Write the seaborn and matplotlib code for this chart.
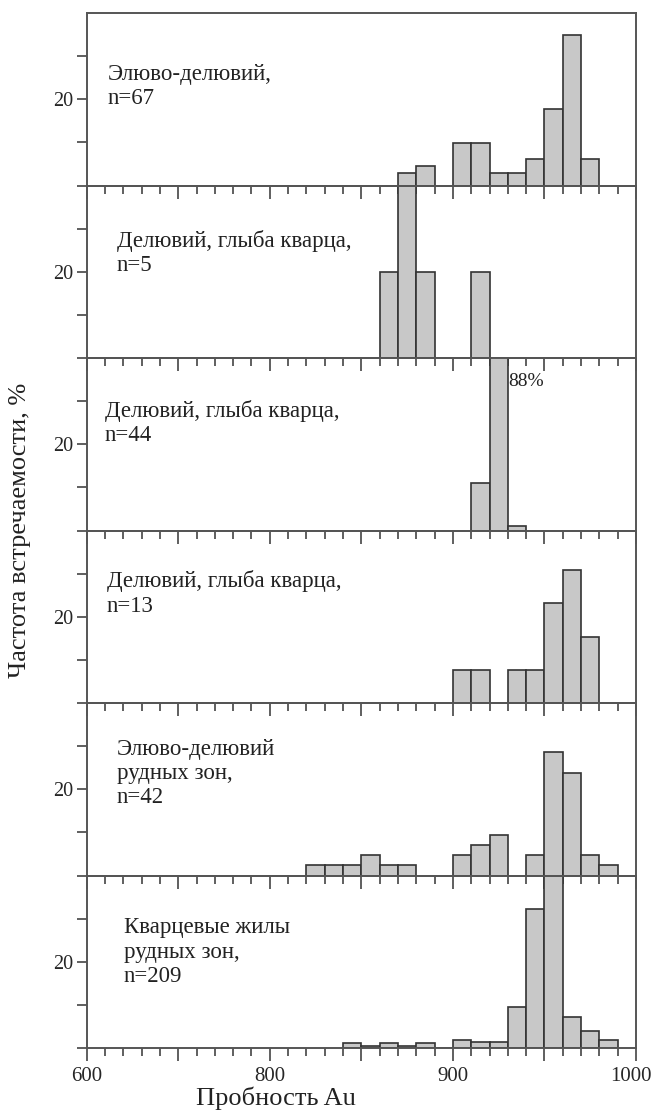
import numpy as np
import pandas as pd
import matplotlib
matplotlib.use("Agg")
import matplotlib.pyplot as plt
from matplotlib.ticker import FixedLocator, FixedFormatter
from matplotlib.transforms import ScaledTranslation
import seaborn as sns

# bin left edges (10-unit bins) and frequency, % for each panel
p1_bins = [870, 880, 900, 910, 920, 930, 940, 950, 960, 970]
p1_pct = [3.0, 4.5, 9.8, 9.8, 2.8, 2.8, 6.2, 17.8, 35.0, 6.2]

p2_bins = [860, 870, 880, 910]
p2_pct = [20.0, 40.0, 20.0, 20.0]

p3_bins = [910, 920, 930]
p3_pct = [11.1, 88.0, 1.0]

p4_bins = [900, 910, 930, 940, 950, 960, 970]
p4_pct = [7.7, 7.7, 7.7, 7.7, 23.1, 30.8, 15.2]

p5_bins = [820, 830, 840, 850, 860, 870, 900, 910, 920, 940, 950, 960, 970, 980]
p5_pct = [2.4, 2.4, 2.4, 4.8, 2.4, 2.4, 4.8, 7.1, 9.3, 4.8, 28.7, 23.7, 4.8, 2.4]

p6_bins = [840, 850, 860, 870, 880, 900, 910, 920, 930, 940, 950, 960, 970, 980]
p6_pct = [1.2, 0.5, 1.2, 0.5, 1.2, 1.8, 1.3, 1.3, 9.5, 32.2, 40.0, 7.2, 4.0, 1.8]

labels = [
    "Элюво-делювий,\nn=67",
    "Делювий, глыба кварца,\nn=5",
    "Делювий, глыба кварца,\nn=44",
    "Делювий, глыба кварца,\nn=13",
    "Элюво-делювий\nрудных зон,\nn=42",
    "Кварцевые жилы\nрудных зон,\nn=209",
]
# label position in pixels: left x, top offset from panel top
label_pos = [(108, 51), (117, 44), (105, 42), (107, 40), (117, 36), (124, 42)]

x_ticks_major = [600, 700, 800, 850, 900, 950, 1000]
x_tick_labels = ["600", "", "800", "", "900", "", "1000"]
x_ticks_minor = [620, 640, 660, 680, 720, 740, 760, 780,
                 810, 820, 830, 840, 860, 870, 880, 890,
                 910, 920, 930, 940, 960, 970, 980, 990]
y_ticks = [0, 10, 20, 30]
y_tick_labels = ["", "", "20", ""]

panels = [(p1_bins, p1_pct), (p2_bins, p2_pct), (p3_bins, p3_pct),
          (p4_bins, p4_pct), (p5_bins, p5_pct), (p6_bins, p6_pct)]


# axis is squeezed two times below 800
def fwd(x):
    x = np.asarray(x, dtype=float)
    return np.where(x < 800, 800 - (800 - x) / 2, x)


def inv(y):
    y = np.asarray(y, dtype=float)
    return np.where(y < 800, 800 - (800 - y) * 2, y)


sns.set_style("ticks")
plt.rcParams["font.family"] = ["Liberation Serif", "DejaVu Serif"]
plt.rcParams["axes.edgecolor"] = "#555555"
plt.rcParams["axes.linewidth"] = 1.4

W, H = 653, 1115
fig, axes = plt.subplots(6, 1, sharex=True, figsize=(W / 100, H / 100), dpi=100)
left, right, top, bottom = 86.7, 636, 13, 1048
fig.subplots_adjust(left=left / W, right=right / W, top=1 - top / H,
                    bottom=1 - bottom / H, hspace=0)
panel_h = (bottom - top) / 6

for i, (ax, (bins, pct)) in enumerate(zip(axes, panels)):
    ax.set_xscale("function", functions=(fwd, inv))
    df = pd.DataFrame({"x": np.array(bins) + 5.0, "pct": pct})
    sns.histplot(data=df, x="x", weights="pct", binwidth=10,
                 binrange=(min(bins), max(bins) + 10), ax=ax,
                 color="#c8c8c8", alpha=1, edgecolor="#333333", linewidth=1.2)
    ax.set_xlim(600, 1000)
    ax.set_ylim(0, 40)
    ax.set_xlabel("")
    ax.set_ylabel("")
    ax.patch.set_visible(False)
    for s in ax.spines.values():
        s.set_visible(True)

    ax.xaxis.set_major_locator(FixedLocator(x_ticks_major))
    ax.xaxis.set_major_formatter(FixedFormatter(x_tick_labels))
    ax.xaxis.set_minor_locator(FixedLocator(x_ticks_minor))
    ax.tick_params(axis="x", which="major", direction="out", length=9,
                   width=1.2, color="#444444", labelsize=15, pad=5)
    ax.tick_params(axis="x", which="minor", direction="out", length=5.5,
                   width=1.2, color="#444444")
    ax.set_yticks(y_ticks)
    ax.set_yticklabels(y_tick_labels)
    ax.tick_params(axis="y", which="major", direction="out", length=7,
                   width=1.2, color="#444444", labelsize=14.5, pad=3)

    lx, ly = label_pos[i]
    ax.text((lx - left) / (right - left), 1 - ly / panel_h, labels[i],
            transform=ax.transAxes, ha="left", va="top", fontsize=16.5,
            linespacing=1.2, color="#222222")

# nudge "1000" a little left so it stays inside the figure
last_lbl = axes[-1].xaxis.get_major_ticks()[-1].label1
last_lbl.set_transform(last_lbl.get_transform()
                       + ScaledTranslation(-0.05, 0, fig.dpi_scale_trans))

axes[2].text(930.5, 34.5, "88%", ha="left", va="center", fontsize=14,
             color="#222222")

fig.text(20 / W, 1 - 530 / H, "Частота встречаемости, %", rotation=90,
         ha="center", va="center", fontsize=19, color="#222222")
fig.text(276 / W, 1 - 1098 / H, "Пробность Au", ha="center", va="center",
         fontsize=19, color="#222222")

fig.savefig("out.png", dpi=100)
